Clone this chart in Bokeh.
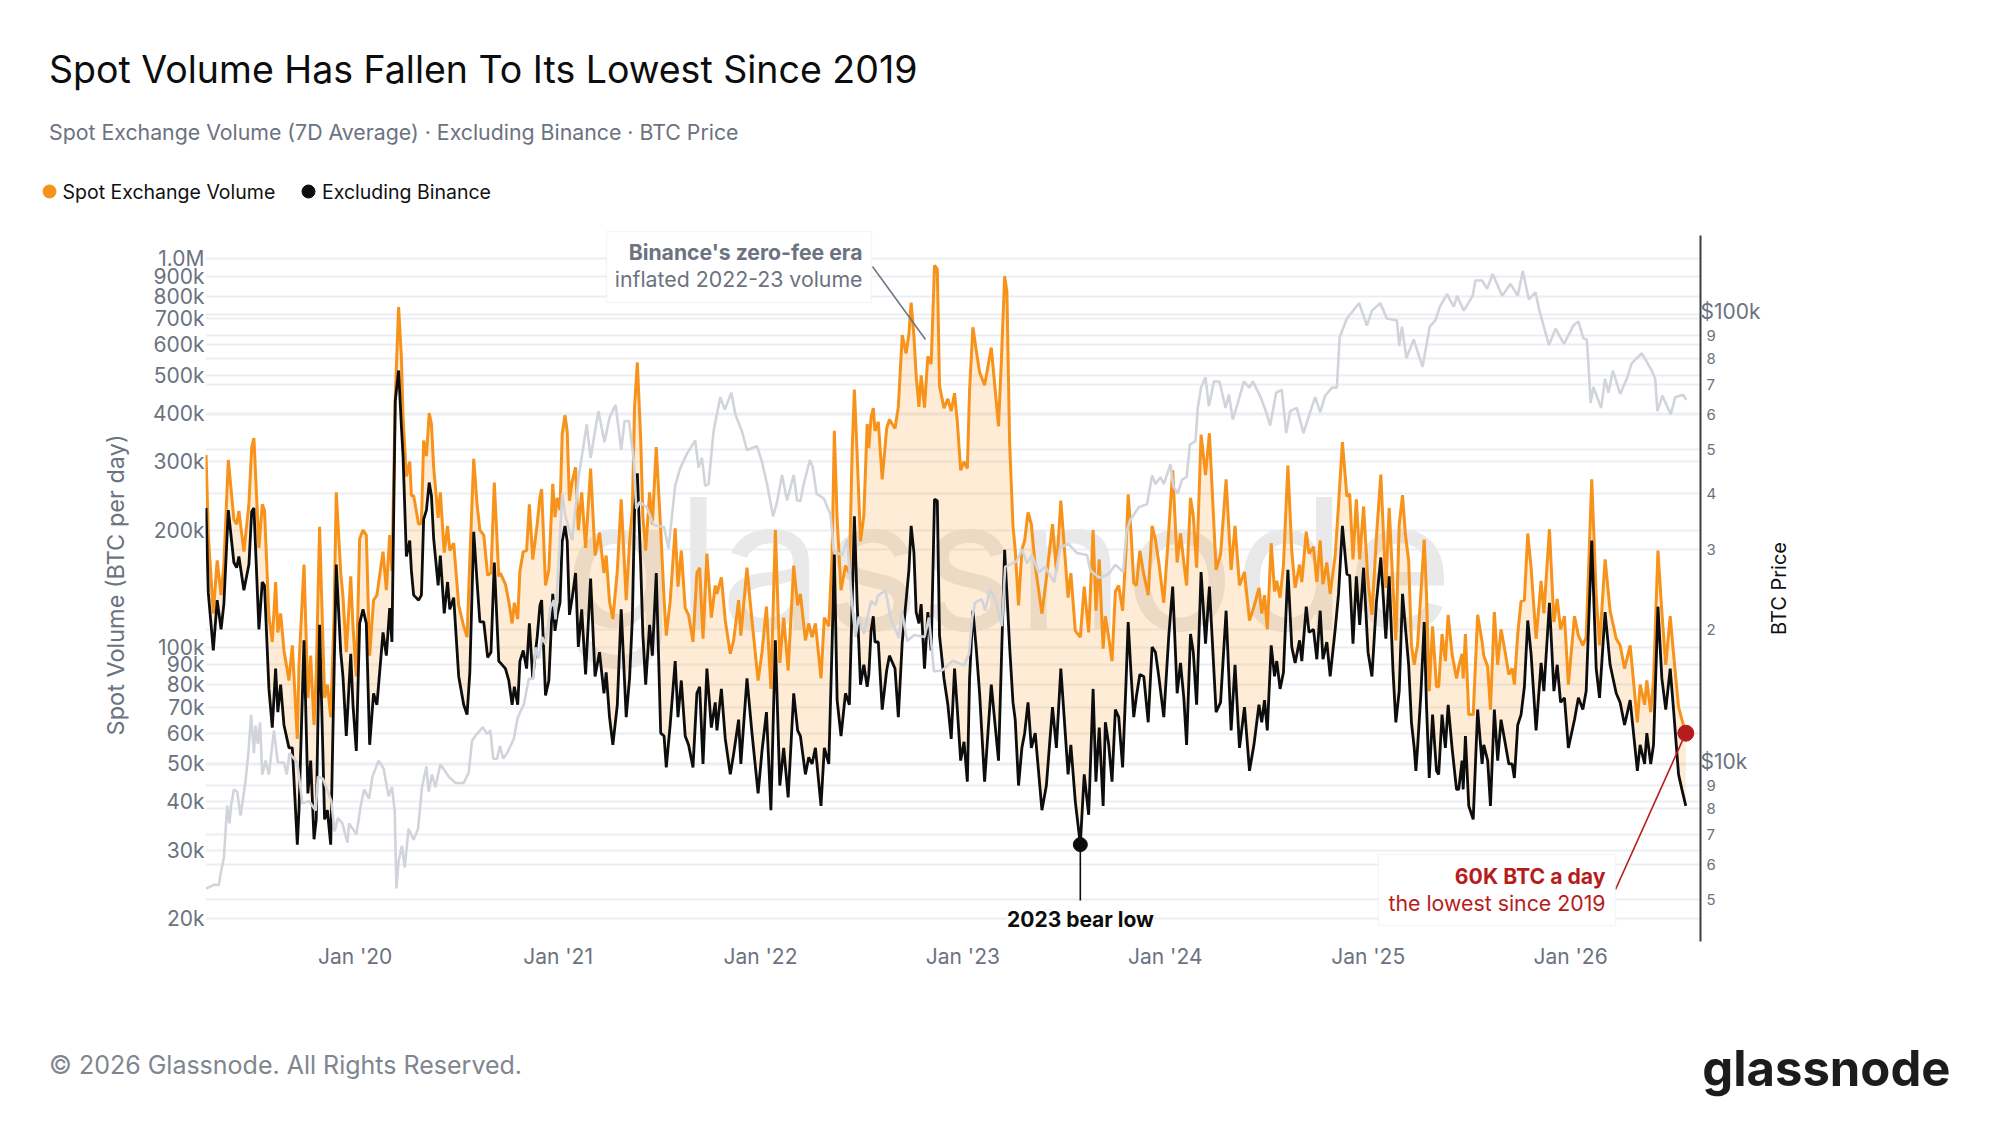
from math import pi
from datetime import datetime, timedelta
from bokeh.embed import file_html
from bokeh.resources import INLINE
from bokeh.plotting import figure
from bokeh.layouts import column, row
from bokeh.models import (Range1d, LogAxis, FixedTicker, Grid, Label,
                          BoxAnnotation, DatetimeTickFormatter, LogScale, ColumnDataSource)

START = datetime(2019, 4, 4)

# --- days since START, shared by the two volume series
days = [1,5,14,21,28,33,41,51,56,60,69,78,83,87,96,102,106,114,120,126,130,135,141,150,156,165,168,177,184,189,195,199,205,214,219,225,231,235,243,247,253,261,265,271,277,283,289,295,302,308,319,325,331,335,341,347,352,355,361,367,370,374,383,388,392,397,402,406,410,418,422,429,435,439,446,455,464,470,475,482,488,493,500,507,513,519,527,
530,539,545,551,555,561,565,571,577,582,588,596,601,604,611,617,624,628,632,637,641,646,650,654,659,665,670,676,683,692,700,708,716,720,726,732,740,747,756,762,767,771,776,782,786,791,798,803,810,818,824,828,835,844,849,855,862,868,876,883,888,894,901,909,916,919,927,934,943,949,958,962,973,982,993,1000,1008,1016,1024,1032,1039,1047,1057,1064,
1069,1078,1084,1090,1096,1106,1112,1120,1126,1130,1135,1142,1150,1157,1162,1166,1171,1177,1183,1189,1192,1196,1200,1203,1209,1216,1224,1229,1239,1245,1252,1259,1264,1268,1273,1277,1282,1286,1292,1298,1304,1310,1315,1319,1327,1334,1340,1346,1351,1357,1363,1369,1373,1379,1385,1391,1400,1412,1425,1430,1436,1440,1445,1451,1455,1461,1467,1472,1478,1484,1491,1503,1511,1522,1529,1537,1550,1555,1563,1572,1579,1587,1595,1600,1606,
1613,1617,1623,1629,1635,1641,1648,1654,1658,1663,1668,1673,1679,1686,1694,1701,1707,1713,1722,1731,1738,1746,1752,1758,1763,1770,1775,1781,1789,1797,1804,1816,1824,1834,1843,1850,1858,1867,1876,1884,1893,1898,1903,1908,1915,1921,1925,1931,1937,1945,1952,1958,1966,1970,1978,1983,1991,1997,2003,2008,2015,2021,2030,2036,2043,2051,2056,2062,2068,2074,2081,2089,2096,2104,2112,2121,2127,2134,2139,2145,
2151,2156,2162,2167,2172,2175,2178,2184,2190,2194,2199,2205,2212,2216,2222,2228,2233,2240,2248,2252,2258,2260,2264,2270,2278,2286,2294,2297,2304,2309,2316,2322,2328,2336,2342,2348,2352,2358,2364,2370,2376,2382,2391,2400,2405,2415,2423,2429,2435,2442,2449,2460,2467,2475,2481,2491,2499,2505,2515,2524,2535,2542,2550,2560,2573,2578,2586,2590,2597,2602,2610,2617,2624,2632,2638,2647,2653,2660]

# --- Spot Exchange Volume, thousand BTC per day
spot_k = [312,195,122,167,136,163,303,213,207,224,176,233,326,345,180,233,225,120,103,147,109,122,98,82,101,58,90,163,74,95,63,85,204,74,80,66,120,250,155,135,97,152,113,84,190,200,194,95,132,136,176,140,194,157,440,750,555,390,275,300,245,245,207,208,340,310,400,375,290,215,250,175,205,177,185,128,113,106,168,305,233,200,194,153,155,265,152,
155,145,131,115,130,118,157,176,177,233,168,207,243,255,144,158,263,216,242,225,354,395,358,238,267,290,200,250,180,288,172,197,155,172,131,118,157,240,132,186,225,415,540,343,216,177,250,207,327,200,133,107,131,202,143,177,126,121,103,155,160,105,174,119,144,137,151,117,96,104,132,107,160,117,82,97,127,78,200,91,119,87,162,128,
137,104,115,106,115,83,119,113,173,360,213,140,162,155,320,460,313,187,218,375,325,390,412,360,380,270,365,385,365,415,635,570,640,770,630,500,415,500,413,560,535,960,940,470,412,435,405,450,380,285,300,288,458,665,580,510,472,590,370,540,900,825,335,205,178,128,178,188,222,207,162,122,150,207,157,238,134,155,110,106,143,109,200,124,168,
99,120,106,92,139,144,124,176,247,199,146,144,177,154,136,205,189,165,130,200,285,165,196,165,144,242,218,160,352,277,355,158,173,270,158,205,144,156,117,127,142,122,136,111,185,139,148,134,162,293,176,142,163,147,198,174,181,147,188,145,165,137,172,232,337,244,248,168,240,168,230,147,121,191,278,142,228,142,104,206,
246,196,167,101,90,96,101,138,189,138,77,113,79,79,108,92,121,96,83,89,96,83,108,67,67,121,103,95,89,69,123,90,111,96,85,88,80,108,131,132,196,160,105,148,122,201,116,133,111,120,80,120,107,101,106,270,136,101,168,124,105,101,88,101,64,80,71,82,68,82,177,123,90,120,96,70,65,60]

# --- Excluding Binance, thousand BTC per day
excl_k = [228,138,98,132,111,129,225,165,160,171,140,163,223,228,111,147,144,78,62,88,68,80,63,55,55,31,38,104,42,51,32,36,114,36,38,31,85,163,97,84,59,96,71,54,115,125,115,56,76,71,109,95,126,103,430,515,370,310,171,188,157,136,132,136,213,225,265,245,190,144,172,122,147,125,134,84,71,67,86,198,147,116,116,94,97,165,92,
91,88,82,71,79,71,92,98,88,115,83,106,128,132,75,82,137,110,121,130,187,205,187,121,134,155,100,125,85,150,84,97,76,86,66,56,71,125,66,83,118,224,280,163,107,80,114,95,155,60,59,49,63,92,66,82,59,56,49,76,79,50,88,62,72,61,78,58,47,53,65,50,83,60,42,54,68,38,104,44,55,41,76,61,
59,47,52,50,55,39,55,50,102,173,73,59,76,71,129,217,129,80,90,79,85,110,120,103,103,69,87,95,88,66,103,132,158,205,175,123,115,129,88,123,98,240,238,107,83,71,58,88,69,51,57,45,83,124,99,76,45,80,51,90,178,138,100,72,65,44,55,60,72,55,60,38,44,70,55,88,47,56,40,31,47,37,78,45,62,
39,64,56,45,69,66,49,80,116,86,66,75,85,84,64,100,97,84,66,107,143,76,91,74,56,108,97,71,156,102,143,68,72,124,61,90,55,70,48,56,71,64,73,61,101,84,92,78,86,158,100,91,104,92,127,109,111,93,124,93,103,84,111,137,205,154,153,102,152,114,160,97,84,130,170,105,152,86,64,77,
137,113,90,64,55,48,55,76,116,71,46,67,48,47,67,55,71,55,43,43,51,43,59,39,36,69,50,56,51,39,69,51,65,56,50,50,46,63,67,79,117,96,61,91,77,130,77,90,72,74,55,65,74,69,77,188,88,74,123,90,76,72,63,73,48,56,50,60,50,56,127,83,69,88,69,47,43,39]

# --- BTC price (thousand USD), on its own dates
price_days = [1,15,24,27,33,39,43,46,51,57,63,72,77,82,87,90,94,98,102,108,114,123,130,141,146,151,165,174,186,198,202,211,226,232,238,246,255,258,271,279,285,294,300,311,320,329,335,340,343,347,353,358,365,374,382,389,397,401,407,413,422,437,449,464,473,479,488,498,506,512,517,524,529,
535,542,554,561,572,581,589,593,599,605,611,620,626,629,641,647,659,671,677,685,692,706,717,726,737,747,753,761,770,774,780,792,806,824,832,844,853,865,880,886,892,898,904,913,925,933,945,952,964,973,991,1000,1009,1020,1027,1036,1045,1057,1063,
1069,1075,1086,1091,1098,1111,1123,1129,1144,1153,1162,1168,1174,1183,1196,1204,1208,1222,1231,1246,1251,1261,1273,1292,1300,1309,1324,1343,1363,1372,1378,1383,1395,1401,1410,1419,1431,1437,1458,1467,1476,1485,1497,1509,1525,1536,1551,1566,1584,1590,1606,
1623,1635,1649,1655,1662,1677,1692,1701,1707,1716,1722,1734,1739,1747,1755,1763,1769,1779,1783,1789,1797,1803,1812,1822,1833,1839,1846,1854,1866,1876,1882,1896,1906,1913,1924,1934,1942,1949,1961,1973,1985,1994,2003,2012,2024,2033,2038,2051,2073,2087,2096,2111,2123,2141,2145,
2150,2158,2171,2187,2200,2210,2218,2231,2243,2249,2261,2277,2282,2294,2303,2313,2330,2345,2358,2367,2378,2390,2397,2414,2426,2441,2458,2467,2476,2482,2485,2489,2494,2508,2515,2521,2529,2542,2554,2563,2581,2599,2605,2609,2618,2633,2641,2655,2661]
price_k = [5.3,5.4,5.4,5.7,6.2,8.1,7.4,8.1,8.8,8.7,7.7,9.2,10.6,12.9,10.6,12.2,11.1,12.4,9.5,10.2,9.5,11.9,10.1,10.1,9.5,10.6,10.1,8.2,8.3,7.9,9.4,9.3,8.3,7.1,7.6,7.4,6.7,7.4,7.0,8.1,8.8,8.4,9.4,10.2,9.8,8.5,8.9,7.9,5.3,6.1,6.6,5.9,7.2,6.8,7.2,8.9,9.9,8.7,9.5,8.9,10.0,9.4,9.1,9.1,9.6,11.3,11.7,12.1,11.7,11.9,10.3,10.3,11.0,
10.3,10.6,11.4,12.7,13.6,15.5,15.5,18.2,17.2,19.2,18.5,22.3,23.2,21.0,40,35.5,31.5,44,49,57,48,61,52,59,63,50,58,58,47,37,38.3,37.4,34,33.7,30.2,41.7,45.5,49,52.5,45.7,48,41.6,42,55,65.5,61.5,67,60,55,50,51,47,42,35.6,38.3,44,38.6,44,38.6,
38.5,42,47.5,45.9,40,39,36,29.8,29.2,31.6,22.6,19.2,21.3,19.5,23.1,22.6,23.7,24.4,21.1,19.1,22,18.8,19.4,19.2,21.2,16.1,16.2,17,16.6,17.6,21.3,22.9,23.3,22,24.5,23.3,20.3,27.5,28.3,30.1,28,29.2,26.7,27.5,25.4,30.4,30.9,29.5,29.2,27,26,
26.5,27.8,26.8,33,35,37.3,37.9,43.9,42,43.5,42,46.5,41.6,40,43,43.5,51.4,52.3,62,68.8,72.5,62.5,71,71,62,66.4,58.4,63,71,68.8,71,65.5,60.7,56.7,67,68,54.5,61,62,54.5,60.7,65.5,60.7,66,68.8,68.8,89,98,106,94.5,102,106,98,97,85,
94,80,88,76.5,94,97,104,111,104,110,102,110,119,119,114,123,110,117,110,125,108,112,102,85.5,93,86,94.5,96.5,88.5,88,78,63.6,69,62,72,67,75,66.6,72,78,82,75,72,61,66,60,65.5,66.3,64.6]

# --- ticks and labels
volume_ticks = [1000000,900000,800000,700000,600000,500000,400000,300000,200000,100000,90000,80000,70000,60000,50000,40000,30000,20000]
volume_tick_labels = ["1.0M","900k","800k","700k","600k","500k","400k","300k","200k","100k","90k","80k","70k","60k","50k","40k","30k","20k"]
price_major_ticks = [10000, 100000]
price_major_labels = ["$10k", "$100k"]
price_minor_ticks = [5000,6000,7000,8000,9000,20000,30000,40000,50000,60000,70000,80000,90000]
price_minor_labels = ["5","6","7","8","9","2","3","4","5","6","7","8","9"]
year_ticks = [2020,2021,2022,2023,2024,2025,2026]

# --- page geometry helpers (page pixels to data, for annotation placement only)
PX_PER_DAY = 0.5545      # time axis calibration from the year labels
ORIGIN_PX = 203.8        # where START falls on the page
READ_SCALE = 0.5565      # scale the day counts above were read on
W = 1984
HEAD_H, CHART_H, FOOT_H = 210, 800, 100
CHART_W = 1770
LEFT, RIGHT, AXIS_TOP, FRAME_TOP, BOTTOM = 205, 1700, 235, 228, 941
LABEL_LIFT = 3           # dollar labels sit slightly above their gridlines
def to_ms(d):
    return (d - datetime(1970, 1, 1)).total_seconds() * 1000
def fx(px):
    return to_ms(START + timedelta(days=(px - ORIGIN_PX) / PX_PER_DAY))
def day_date(d):
    return START + timedelta(days=(LEFT + d * READ_SCALE - ORIGIN_PX) / PX_PER_DAY)
def fy(py):
    return 10 ** (6 - (py - 258) / 388.5)
def fp(py):
    return 10 ** (4 + (764 - py) / 450)

GREY = "#6b7280"; ORANGE = "#f7931a"; BLACK = "#0d0d0d"; LIGHT = "#d1d5db"; RED = "#b71c1c"; GRID = "#eceef1"
FONT = "Inter"

def plain(w, h, left, top):
    f = figure(width=w, height=h, output_backend="svg", toolbar_location=None,
               x_range=Range1d(left, left + w), y_range=Range1d(top + h, top),
               min_border=0, background_fill_color="white", border_fill_color="white", outline_line_color=None)
    f.axis.visible = False
    f.grid.visible = False
    f.frame_align = False
    return f

def put(f, px, py, s, size, color, style="normal", align="left", **kw):
    f.add_layout(Label(x=px, y=py, text=s, text_font=FONT, text_font_size=size, text_color=color,
                       text_font_style=style, text_align=align, text_baseline="middle", **kw))

# header
head = plain(W, HEAD_H, 0, 0)
put(head, 48.5, 69, "Spot Volume Has Fallen To Its Lowest Since 2019", "37.5px", "#0d0d0d")
put(head, 48.5, 131.5, "Spot Exchange Volume (7D Average) · Excluding Binance · BTC Price", "21.3px", GREY)
# legend: swatch dots and their labels
head.scatter(x=[49], y=[191], size=13, color=ORANGE)
head.scatter(x=[308], y=[191], size=13, color=BLACK)
put(head, 62, 191, "Spot Exchange Volume", "19.5px", "#111111")
put(head, 321.5, 191, "Excluding Binance", "19.5px", "#111111")

# footer
foot = plain(W, FOOT_H, 0, HEAD_H + CHART_H)
put(foot, 48.5, 1064, "© 2026 Glassnode. All Rights Reserved.", "25px", "#808690")
put(foot, 1950, 1068, "glassnode", "49px", "#1c1c1c", style="bold", align="right")

# side panel with the right axis title
side = plain(W - CHART_W, CHART_H, CHART_W, HEAD_H)
put(side, 1778, 588, "BTC Price", "20px", "#111111", align="center", angle=pi / 2)

# chart
dates = [day_date(d) for d in days]
pdates = [day_date(d) for d in price_days]
src = ColumnDataSource(dict(x=dates, spot=[v * 1000 for v in spot_k], excl=[v * 1000 for v in excl_k]))
psrc = ColumnDataSource(dict(x=pdates, price=[v * 1000 for v in price_k]))

p = figure(width=CHART_W, height=CHART_H, output_backend="svg", toolbar_location=None,
           x_axis_type="datetime", y_axis_type="log",
           x_range=Range1d(fx(LEFT), fx(RIGHT)), y_range=Range1d(fy(BOTTOM), fy(FRAME_TOP)),
           min_border_left=LEFT, min_border_right=CHART_W - RIGHT,
           min_border_top=FRAME_TOP - HEAD_H, min_border_bottom=HEAD_H + CHART_H - BOTTOM,
           background_fill_color="white", border_fill_color="white", outline_line_color=None)
p.frame_align = False
p.extra_y_ranges = {"price": Range1d(fp(BOTTOM), fp(FRAME_TOP)),
                    "price_labels": Range1d(fp(BOTTOM + LABEL_LIFT), fp(FRAME_TOP + LABEL_LIFT))}
p.extra_y_scales = {"price": LogScale(), "price_labels": LogScale()}

# x axis
xa = p.xaxis[0]
xa.ticker = FixedTicker(ticks=[to_ms(datetime(y, 1, 1)) for y in year_ticks])
xa.formatter = DatetimeTickFormatter(days="%b '%y", months="%b '%y", years="%b '%y", hours="%b '%y")
xa.axis_line_color = None; xa.major_tick_line_color = None; xa.minor_tick_line_color = None
xa.major_tick_out = 0
xa.major_label_text_font = FONT; xa.major_label_text_font_size = "21px"; xa.major_label_text_color = GREY
xa.major_label_standoff = 2
p.xgrid.visible = False

# left axis
ya = p.yaxis[0]
ya.ticker = FixedTicker(ticks=volume_ticks)
ya.major_label_overrides = dict(zip(volume_ticks, volume_tick_labels))
ya.axis_line_color = None; ya.major_tick_line_color = None; ya.minor_tick_line_color = None
ya.major_tick_out = 0
ya.major_label_text_font = FONT; ya.major_label_text_font_size = "21px"; ya.major_label_text_color = GREY
ya.major_label_standoff = 1
ya.axis_label = "Spot Volume (BTC per day)"
ya.axis_label_text_font = FONT; ya.axis_label_text_font_size = "23.5px"; ya.axis_label_text_color = GREY
ya.axis_label_text_font_style = "normal"; ya.axis_label_standoff = 20
p.ygrid.ticker = FixedTicker(ticks=volume_ticks)
p.ygrid.grid_line_color = GRID; p.ygrid.grid_line_width = 2

# right axes: small digits next to the frame, the dollar labels stacked over them
ra1 = LogAxis(y_range_name="price", ticker=FixedTicker(ticks=price_minor_ticks),
              major_label_overrides=dict(zip(price_minor_ticks, price_minor_labels)),
              axis_line_color="#3a3f47", axis_line_width=2, bounds=(fp(BOTTOM), fp(AXIS_TOP)),
              major_tick_line_color=None, minor_tick_line_color=None, major_tick_out=0,
              major_label_text_font=FONT, major_label_text_font_size="15px", major_label_text_color=GREY,
              major_label_standoff=6)
p.add_layout(ra1, "right")
ra2 = LogAxis(y_range_name="price_labels", ticker=FixedTicker(ticks=price_major_ticks),
              major_label_overrides=dict(zip(price_major_ticks, price_major_labels)),
              axis_line_color=None, major_tick_line_color=None, minor_tick_line_color=None, major_tick_out=0,
              major_label_text_font=FONT, major_label_text_font_size="21px", major_label_text_color=GREY,
              major_label_standoff=-19)
p.add_layout(ra2, "right")
p.add_layout(Grid(dimension=1, y_range_name="price", grid_line_color=GRID, grid_line_width=2,
                  ticker=FixedTicker(ticks=price_major_ticks + price_minor_ticks)))

# watermark
p.add_layout(Label(x=fx(1008), y=fy(563), text="glassnode", text_font=FONT, text_font_size="183px",
                   text_color="#e9e9e9", text_align="center", text_baseline="middle", level="underlay"))

# series
p.varea(x="x", y1="spot", y2="excl", source=src, fill_color=ORANGE, fill_alpha=0.18)
p.line(x="x", y="spot", source=src, line_color=ORANGE, line_width=3)
p.line(x="x", y="excl", source=src, line_color=BLACK, line_width=2.8)
p.line(x="x", y="price", source=psrc, y_range_name="price", line_color=LIGHT, line_width=2.6)

def text(px, py, s, size, color, style="normal", align="left", **kw):
    p.add_layout(Label(x=fx(px), y=fy(py), text=s, text_font=FONT, text_font_size=size, text_color=color,
                       text_font_style=style, text_align=align, text_baseline="middle", **kw))

# annotations
low_day = day_date(1572)
end_day = day_date(2660)
p.segment(x0=[fx(872)], y0=[fy(266)], x1=[fx(925)], y1=[fy(339)], line_color=GREY, line_width=1.5)
p.segment(x0=[low_day], y0=[31000], x1=[low_day], y1=[fy(900)], line_color=BLACK, line_width=1.6)
p.segment(x0=[fx(1615)], y0=[fy(889)], x1=[end_day], y1=[60000], line_color=RED, line_width=1.6)
p.scatter(x=[low_day], y=[31000], size=14, color=BLACK)
p.scatter(x=[end_day], y=[60000], size=16, color=RED)

p.add_layout(BoxAnnotation(left=fx(606), right=fx(871), top=fy(231), bottom=fy(302), fill_color="white", fill_alpha=1,
                           line_color="#dfe2e6", line_width=1.5))
p.add_layout(BoxAnnotation(left=fx(1378), right=fx(1615), top=fy(854), bottom=fy(925), fill_color="white", fill_alpha=1,
                           line_color="#dfe2e6", line_width=1.5))
text(862, 251, "Binance's zero-fee era", "21.2px", GREY, style="bold", align="right")
text(862, 278, "inflated 2022-23 volume", "21.3px", GREY, align="right")
text(1605, 875, "60K BTC a day", "21.2px", RED, style="bold", align="right")
text(1605, 902, "the lowest since 2019", "21.3px", RED, align="right")
text(1080, 919, "2023 bear low", "21px", "#0d0d0d", style="bold", align="center", background_fill_color="white")

open("out.html", "w").write(file_html(column(head, row(p, side, spacing=0), foot, spacing=0), INLINE))
